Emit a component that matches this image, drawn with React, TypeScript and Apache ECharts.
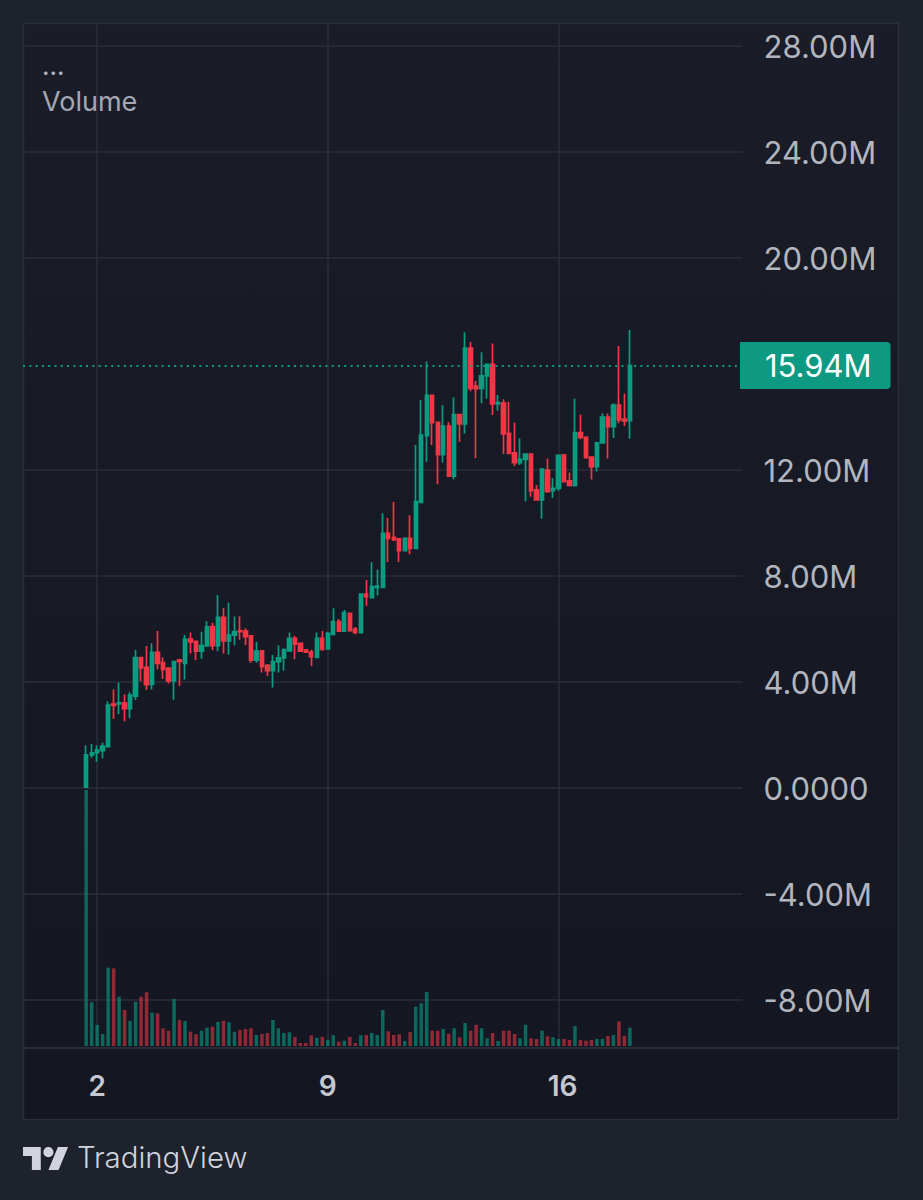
import React, { useEffect, useRef } from "react";
import * as echarts from "echarts";

const opens = [0.03,1.25,1.33,1.41,1.56,3.17,3.17,3.20,2.99,3.47,4.92,4.55,3.91,5.12,4.73,4.52,4.04,4.83,4.70,5.62,5.53,5.16,5.36,6.09,5.37,6.44,5.55,5.77,5.94,5.92,5.74,4.82,5.18,4.63,4.43,4.77,4.91,5.17,5.65,5.46,5.21,5.13,4.93,5.65,5.25,5.80,6.28,5.92,6.59,6.00,5.86,7.32,7.18,7.56,7.57,9.61,9.46,9.40,8.96,9.42,9.04,10.78,13.30,14.82,13.80,12.58,13.66,11.77,14.09,13.74,16.60,15.17,15.08,15.55,15.99,14.49,14.52,13.38,12.65,12.28,12.40,12.60,11.25,10.87,12.00,11.22,11.31,12.57,11.59,11.41,13.41,13.23,12.49,12.13,13.02,14.00,13.64,14.45,13.92,13.86];
const closes = [1.25,1.33,1.43,1.58,3.13,3.12,3.22,2.99,3.51,4.92,4.53,3.90,5.12,4.70,4.48,4.04,4.77,4.78,5.62,5.51,5.16,5.37,6.08,5.37,6.44,5.55,5.77,5.90,5.90,5.71,4.82,5.17,4.58,4.43,4.77,4.91,5.22,5.65,5.43,5.16,5.13,4.96,5.65,5.23,5.84,6.28,5.92,6.62,5.94,5.87,7.32,7.22,7.60,7.62,9.61,9.42,9.36,8.96,9.42,9.04,10.81,13.32,14.82,13.79,12.58,13.66,11.77,14.09,13.74,16.60,15.08,15.07,15.55,15.99,14.49,14.54,13.36,12.63,12.28,12.40,12.60,11.22,10.87,12.03,11.18,11.31,12.55,11.56,11.42,13.41,13.23,12.47,12.13,13.02,14.00,13.64,14.45,13.89,13.85,15.94];
const lows = [0.03,1.14,0.99,1.12,1.56,2.60,2.78,2.52,2.63,3.32,4.04,3.70,3.72,4.48,4.11,3.94,3.33,3.86,4.09,5.08,4.82,4.88,5.33,5.20,5.16,5.08,5.03,5.38,5.59,5.40,4.73,4.73,4.36,4.23,3.79,4.36,4.42,5.16,4.86,5.13,5.11,4.60,4.92,5.18,5.25,5.77,5.90,5.90,5.92,5.80,5.86,6.88,7.18,7.26,7.57,8.53,9.36,8.53,8.96,8.82,9.04,10.78,12.31,12.94,11.46,12.28,11.77,11.65,13.07,13.38,14.97,12.45,14.52,14.70,14.08,14.25,12.60,12.63,12.15,12.19,10.81,10.99,10.87,10.16,11.18,10.94,11.22,11.56,11.42,11.41,13.16,12.47,11.64,11.94,13.02,12.43,13.21,13.76,13.67,13.18];
const highs = [1.60,1.66,1.60,1.72,3.26,3.72,3.97,3.53,3.61,5.21,4.95,5.36,5.46,5.92,4.93,4.55,4.80,4.88,5.77,5.87,5.56,5.90,6.29,6.24,7.28,6.79,6.99,6.47,6.48,6.03,5.76,5.52,5.21,4.68,5.02,5.38,5.26,5.87,5.74,5.46,5.23,5.22,5.87,5.92,5.90,6.78,6.38,6.72,6.59,6.08,7.34,7.85,8.52,8.25,10.37,10.19,10.79,9.40,9.42,10.29,12.94,14.64,16.09,14.82,13.80,14.44,13.80,14.74,14.09,17.20,16.83,15.36,16.44,15.99,16.77,14.83,14.67,14.58,13.79,13.19,12.60,12.60,11.43,12.03,12.42,11.69,12.55,12.57,11.91,14.69,14.09,13.23,12.49,13.02,14.14,14.13,14.52,16.68,14.89,17.28];
const volumes = [25.6,4.37,2.1,1.2,7.83,7.77,4.93,3.6,2.5,4.43,4.93,5.37,3.33,3.27,1.77,1.53,4.7,2.6,2.5,1.43,1.17,1.53,1.83,1.93,2.4,2.53,2.37,1.43,1.6,1.7,1.77,1.1,1.2,1.3,2.6,1.77,1.3,1.37,0.9,0.3,0.3,1.07,0.83,0.9,0.6,1.07,0.43,0.53,0.9,0.3,1.07,1.1,1.3,1.1,3.6,1.47,1.1,1.17,0.5,1.4,3.93,4.27,5.4,1.53,1.53,1.7,1.23,1.77,0.87,2.3,1.53,2.13,1.77,0.77,1.3,0.5,1.53,1.53,1.2,0.77,2.13,0.77,0.7,1.53,0.97,0.87,0.7,0.7,0.6,2.0,0.6,0.53,0.6,0.7,0.7,1.0,1.1,2.47,1.0,1.83];

const dayLabels: Record<number, string> = { 13: "2", 55: "9", 97: "16" };
const categoryCount = 131;
const firstCandle = 11;
const categories = Array.from({ length: categoryCount }, (_, i) => dayLabels[i] ?? "");
const lastPrice = 15.94;
const priceTicks = [-8, -4, 0, 4, 8, 12, 20, 24, 28];

const GREEN = "#0b9c82";
const RED = "#f23645";
const TEXT = "#b2b5be";
const LINE = "#2a2e39";
const FONT = "Inter, 'Noto Sans', sans-serif";

const fmtPrice = (v: number) => (v === 0 ? "0.0000" : `${v.toFixed(2)}M`);

export default function App() {
  const ref = useRef<HTMLDivElement>(null);
  useEffect(() => {
    const chart = echarts.init(ref.current!, null, { renderer: "svg" });
    echarts.graphic.registerShape(
      "tvlogo",
      echarts.graphic.extendPath(
        "M14 22H7V11H0V4h14v18zM28 22h-8l7.5-18h8L28 22zM20 4a4 4 0 1 1 0 8a4 4 0 1 1 0-8z",
        {}
      ) as any
    );
    chart.setOption({
      animation: false,
      backgroundColor: "#1e222d",
      graphic: [
        {
          type: "rect",
          z: -10,
          shape: { x: 23.5, y: 23.5, width: 875, height: 1096 },
          style: {
            fill: new echarts.graphic.LinearGradient(0, 0, 0, 1, [
              { offset: 0, color: "#1a1d28" },
              { offset: 1, color: "#141722" },
            ]),
            stroke: LINE,
            lineWidth: 1.5,
          },
        },
        { type: "line", z: 1, shape: { x1: 743, y1: 1048, x2: 899, y2: 1048 }, style: { stroke: LINE, lineWidth: 2 } },
        { type: "text", z: 5, x: 42, y: 52, style: { text: "...", fill: TEXT, font: `400 26px ${FONT}` } },
        { type: "text", z: 5, x: 42, y: 88, style: { text: "Volume", fill: "#a5a8b2", font: `400 27px ${FONT}` } },
        { type: "tvlogo", z: 5, x: 23, y: 1142, scaleX: 1.27, scaleY: 1.27, style: { fill: "#d1d4dc" } },
        { type: "text", z: 5, x: 77, y: 1143, style: { text: "TradingView", fill: "#d1d4dc", font: `300 29.4px ${FONT}` } },
      ],
      grid: [
        { left: 23, right: 180.5, top: 46, height: 954 },
        { left: 23, right: 180.5, top: 23, height: 1025 },
      ],
      xAxis: [
        { type: "category", gridIndex: 0, data: categories, show: false },
        {
          type: "category",
          gridIndex: 1,
          data: categories,
          axisLine: { onZero: false, lineStyle: { color: LINE, width: 2 } },
          axisTick: { show: false },
          axisLabel: {
            interval: (i: number) => i in dayLabels,
            margin: 24,
            color: "#c5c8d0",
            fontFamily: FONT,
            fontSize: 28,
            fontWeight: 600,
            formatter: (v: string) => (v === "16" ? "{s|16}" : v),
            rich: {
              s: { padding: [0, 0, 0, 8], color: "#c5c8d0", fontFamily: FONT, fontSize: 28, fontWeight: 600 },
            },
          },
          splitLine: {
            show: true,
            alignWithLabel: true,
            interval: (i: number) => i in dayLabels,
            lineStyle: { color: LINE, width: 1.5 },
          },
        },
      ],
      yAxis: [
        {
          type: "value",
          gridIndex: 0,
          position: "right",
          min: -8,
          max: 28,
          interval: 4,
          axisLine: { show: false },
          axisTick: { show: false, customValues: priceTicks },
          axisLabel: { margin: 21, color: TEXT, fontFamily: FONT, fontSize: 31, customValues: priceTicks, formatter: fmtPrice },
          splitLine: { show: true, lineStyle: { color: LINE, width: 1.5 } },
        },
        { type: "value", gridIndex: 1, min: -0.2, max: 102.3, show: false },
      ],
      series: [
        {
          type: "bar",
          xAxisIndex: 1,
          yAxisIndex: 1,
          barWidth: 3.5,
          z: 2,
          encode: { x: 0, y: 1 },
          data: volumes.map((v, i) => ({
            value: [firstCandle + i, v],
            itemStyle: { color: closes[i] >= opens[i] ? "rgba(8,153,129,0.62)" : "rgba(242,54,69,0.56)" },
          })),
        },
        {
          type: "candlestick",
          xAxisIndex: 0,
          yAxisIndex: 0,
          barWidth: 3.8,
          z: 3,
          encode: { x: 0, y: [1, 2, 3, 4] },
          itemStyle: { color: GREEN, color0: RED, borderColor: GREEN, borderColor0: RED, borderWidth: 1.7 },
          data: opens.map((o, i) => [firstCandle + i, o, closes[i], lows[i], highs[i]]),
          markLine: {
            silent: true,
            symbol: "none",
            lineStyle: { color: GREEN, type: [2, 4.3], width: 2 },
            data: [{ yAxis: lastPrice }],
            label: {
              show: true,
              position: "end",
              distance: -2.5,
              formatter: () => fmtPrice(lastPrice),
              color: "#ffffff",
              fontFamily: FONT,
              fontSize: 31,
              backgroundColor: "#0e9a82",
              padding: [8, 19, 8, 25],
              borderRadius: [0, 4, 4, 0],
            },
          },
        },
      ],
    });
    return () => chart.dispose();
  }, []);
  return <div ref={ref} style={{ position: "absolute", left: 0, top: 0, width: 923, height: 1200 }} />;
}
